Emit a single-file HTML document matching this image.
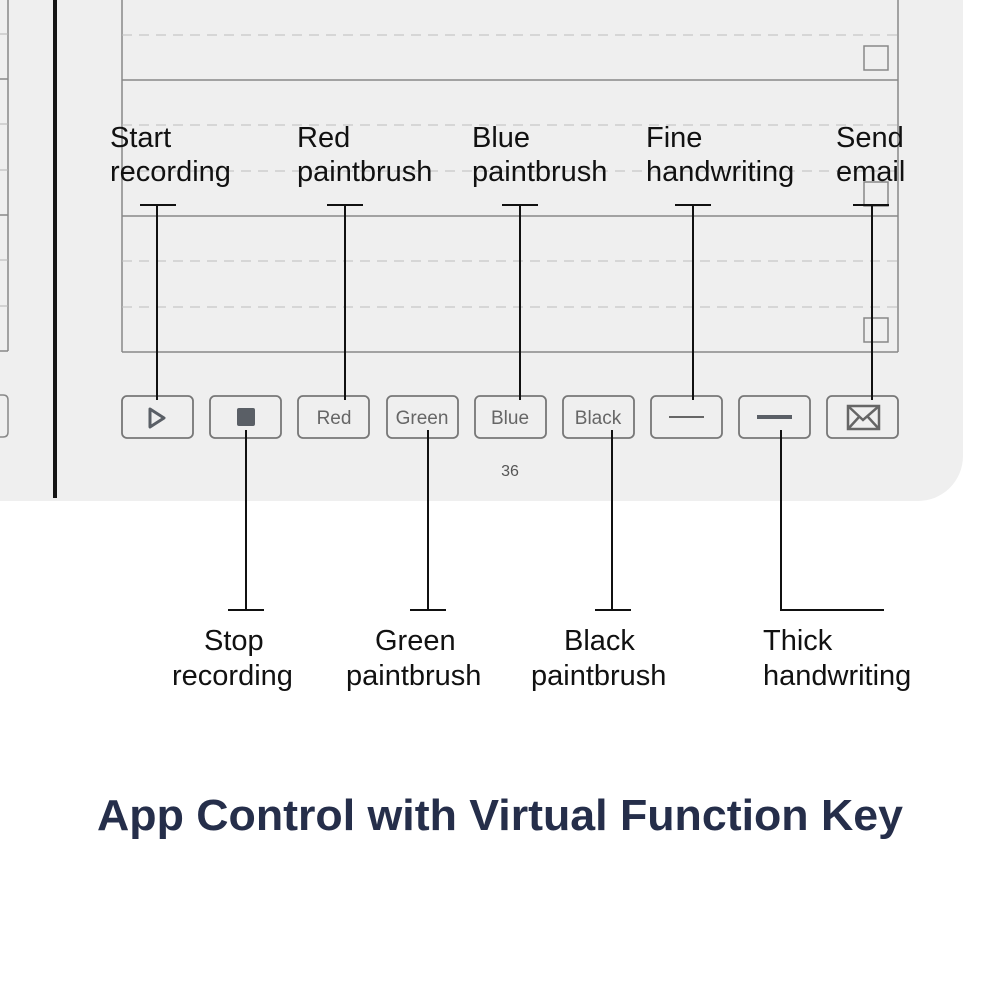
<!DOCTYPE html>
<html><head><meta charset="utf-8"><style>
html,body{margin:0;padding:0;background:#fff;}
svg{display:block;}
</style></head><body>
<svg width="1000" height="1000" viewBox="0 0 1000 1000" xmlns="http://www.w3.org/2000/svg" font-family="Liberation Sans, sans-serif">
<rect x="0" y="0" width="1000" height="1000" fill="#fff"/>
<rect x="0" y="0" width="60" height="501" fill="#efefef"/>
<path d="M0 0 H963 V456 A45 45 0 0 1 918 501 H0 Z" fill="#efefef"/>
<!-- left page -->
<g stroke="#888" stroke-width="1.5" fill="none">
<line x1="8" y1="0" x2="8" y2="351"/>
<line x1="0" y1="79" x2="8" y2="79"/>
<line x1="0" y1="215" x2="8" y2="215"/>
<line x1="0" y1="351" x2="8" y2="351"/>
<path d="M0 395 H3 Q8 395 8 400 V432 Q8 437 3 437 H0"/>
</g>
<g stroke="#b5b5b5" stroke-width="1" stroke-dasharray="8 6">
<line x1="0" y1="34" x2="8" y2="34"/><line x1="0" y1="124" x2="8" y2="124"/>
<line x1="0" y1="170" x2="8" y2="170"/><line x1="0" y1="260" x2="8" y2="260"/>
<line x1="0" y1="306" x2="8" y2="306"/>
</g>
<rect x="53" y="0" width="4" height="498" fill="#151515"/>
<!-- notebook frame -->
<g stroke="#888" stroke-width="1.5" fill="none">
<line x1="122" y1="0" x2="122" y2="352"/>
<line x1="898" y1="0" x2="898" y2="352"/>
<line x1="122" y1="80" x2="898" y2="80"/>
<line x1="122" y1="216" x2="898" y2="216"/>
<line x1="122" y1="352" x2="898" y2="352"/>
<rect x="864" y="46" width="24" height="24"/>
<rect x="864" y="182" width="24" height="24"/>
<rect x="864" y="318" width="24" height="24"/>
</g>
<g stroke="#bdbdbd" stroke-width="1" stroke-dasharray="10 7">
<line x1="122" y1="35" x2="898" y2="35"/>
<line x1="122" y1="125" x2="898" y2="125"/>
<line x1="122" y1="171" x2="898" y2="171"/>
<line x1="122" y1="261" x2="898" y2="261"/>
<line x1="122" y1="307" x2="898" y2="307"/>
</g>
<!-- buttons -->
<g stroke="#777" stroke-width="1.8" fill="none">
<rect x="122" y="396" width="71" height="42" rx="5"/>
<rect x="210" y="396" width="71" height="42" rx="5"/>
<rect x="298" y="396" width="71" height="42" rx="5"/>
<rect x="387" y="396" width="71" height="42" rx="5"/>
<rect x="475" y="396" width="71" height="42" rx="5"/>
<rect x="563" y="396" width="71" height="42" rx="5"/>
<rect x="651" y="396" width="71" height="42" rx="5"/>
<rect x="739" y="396" width="71" height="42" rx="5"/>
<rect x="827" y="396" width="71" height="42" rx="5"/>
</g>
<path d="M150 409 L164 418 L150 427 Z" fill="none" stroke="#5a5f66" stroke-width="3" stroke-linejoin="round"/>
<rect x="237" y="408" width="18" height="18" rx="2" fill="#5a5f66"/>
<g font-size="19" fill="#666" text-anchor="middle">
<text x="334" y="424">Red</text>
<text x="422" y="424">Green</text>
<text x="510" y="424">Blue</text>
<text x="598" y="424">Black</text>
</g>
<line x1="669" y1="417" x2="704" y2="417" stroke="#666" stroke-width="2"/>
<line x1="757" y1="417" x2="792" y2="417" stroke="#5a5f66" stroke-width="4"/>
<g stroke="#666" stroke-width="2.5" fill="none">
<rect x="848" y="406" width="31" height="23"/>
<path d="M848 406 L863 420 L879 406 M848 429 L859 417 M879 429 L868 417"/>
</g>
<text x="510" y="476" font-size="16" fill="#555" text-anchor="middle">36</text>
<!-- connectors -->
<g stroke="#111" stroke-width="2" fill="none">
<path d="M140 205 H176 M157 205 V400"/>
<path d="M327 205 H363 M345 205 V400"/>
<path d="M502 205 H538 M520 205 V400"/>
<path d="M675 205 H711 M693 205 V400"/>
<path d="M853 205 H889 M872 205 V400"/>
<path d="M246 430 V610 M228 610 H264"/>
<path d="M428 430 V610 M410 610 H446"/>
<path d="M612 430 V610 M595 610 H631"/>
<path d="M781 430 V610 H884"/>
</g>
<g font-size="29" fill="#111">
<text x="110" y="147">Start</text><text x="110" y="181">recording</text>
<text x="297" y="147">Red</text><text x="297" y="181">paintbrush</text>
<text x="472" y="147">Blue</text><text x="472" y="181">paintbrush</text>
<text x="646" y="147">Fine</text><text x="646" y="181">handwriting</text>
<text x="836" y="147">Send</text><text x="836" y="181">email</text>
<text x="204" y="650">Stop</text><text x="172" y="685">recording</text>
<text x="375" y="650">Green</text><text x="346" y="685">paintbrush</text>
<text x="564" y="650">Black</text><text x="531" y="685">paintbrush</text>
<text x="763" y="650">Thick</text><text x="763" y="685">handwriting</text>
</g>
<text x="97" y="830" font-size="44" font-weight="bold" fill="#252e4a" textLength="806" lengthAdjust="spacingAndGlyphs">App Control with Virtual Function Key</text>
</svg>
</body></html>
